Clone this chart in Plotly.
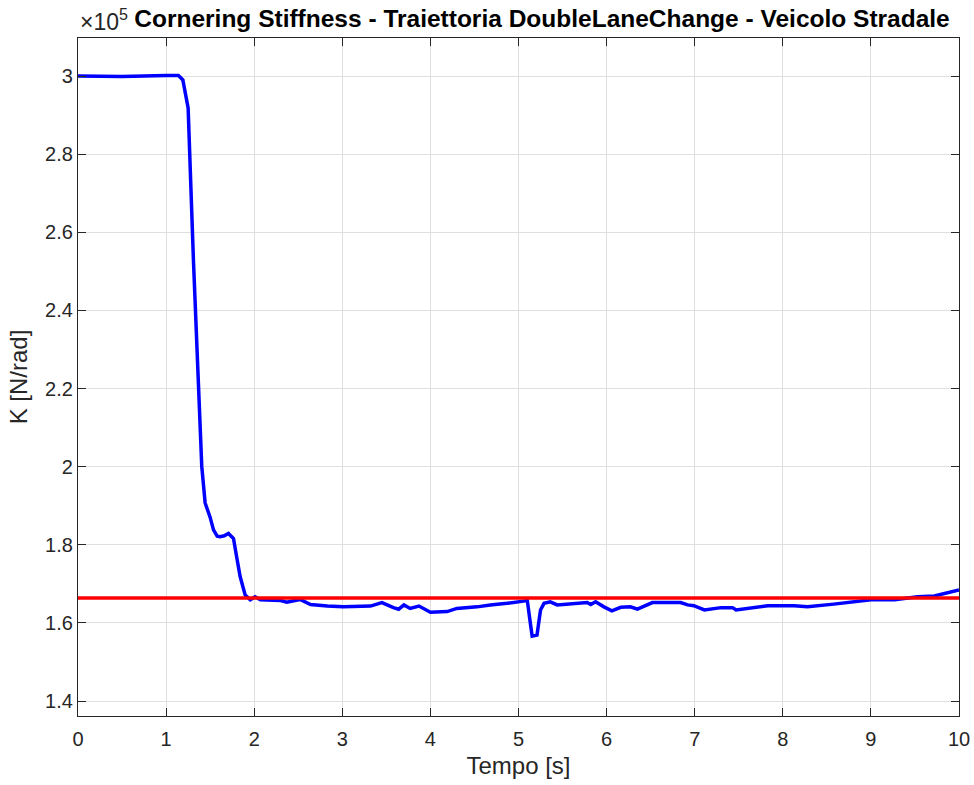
import plotly.graph_objects as go

# Time samples [s] and estimated cornering stiffness [x1e5 N/rad]
tempo = [0.0, 0.5, 1.0, 1.14, 1.19, 1.25, 1.31, 1.33, 1.36, 1.405, 1.443, 1.50,
         1.538, 1.58, 1.614, 1.66, 1.708, 1.765, 1.80, 1.841, 1.898, 1.955, 2.01,
         2.07, 2.30, 2.37, 2.52, 2.58, 2.64, 2.83, 3.01, 3.32, 3.45, 3.58, 3.64,
         3.70, 3.77, 3.87, 4.00, 4.19, 4.30, 4.53, 4.68, 4.87, 5.02, 5.10, 5.14,
         5.155, 5.21, 5.25, 5.29, 5.36, 5.44, 5.67, 5.78, 5.82, 5.875, 5.97, 6.06,
         6.16, 6.27, 6.35, 6.52, 6.84, 6.92, 6.99, 7.11, 7.30, 7.43, 7.47, 7.83,
         8.13, 8.28, 8.58, 8.85, 9.0, 9.27, 9.53, 9.72, 10.0]
k_stima = [3.000, 2.999, 3.001, 3.001, 2.99, 2.918, 2.53, 2.41, 2.222, 2.0, 1.907,
           1.87, 1.838, 1.822, 1.8205, 1.823, 1.829, 1.816, 1.77, 1.718, 1.671,
           1.659, 1.667, 1.659, 1.657, 1.653, 1.660, 1.653, 1.647, 1.643, 1.641,
           1.643, 1.652, 1.639, 1.635, 1.646, 1.637, 1.643, 1.627, 1.629, 1.637,
           1.641, 1.646, 1.650, 1.654, 1.657, 1.59, 1.566, 1.569, 1.633, 1.650,
           1.654, 1.646, 1.650, 1.652, 1.647, 1.654, 1.641, 1.631, 1.640, 1.641,
           1.635, 1.652, 1.652, 1.646, 1.644, 1.633, 1.639, 1.639, 1.633, 1.644,
           1.644, 1.641, 1.648, 1.654, 1.659, 1.659, 1.667, 1.669, 1.684]

# Reference (true) cornering stiffness [x1e5 N/rad]
k_reale = 1.6636
t_range = [0, 10]

x_ticks = [0, 1, 2, 3, 4, 5, 6, 7, 8, 9, 10]
y_ticks = [1.4, 1.6, 1.8, 2.0, 2.2, 2.4, 2.6, 2.8, 3.0]
y_tick_text = ["1.4", "1.6", "1.8", "2", "2.2", "2.4", "2.6", "2.8", "3"]

FONT = "Liberation Sans, Arial, Helvetica, sans-serif"
AX = "#262626"
GRID = "#dfdfdf"

fig = go.Figure()
fig.add_trace(go.Scatter(x=tempo, y=k_stima, mode="lines",
                         line=dict(color="#0000ff", width=3.5), showlegend=False))
fig.add_trace(go.Scatter(x=t_range, y=[k_reale, k_reale], mode="lines",
                         line=dict(color="#ff0000", width=3.5), showlegend=False))

axis_common = dict(
    showline=True, linecolor=AX, linewidth=1.3, mirror="ticks",
    ticks="inside", ticklen=8, tickcolor=AX, tickwidth=1.3,
    showgrid=True, gridcolor=GRID, gridwidth=1, zeroline=False,
    automargin=False,
    tickfont=dict(family=FONT, size=20, color=AX),
)

fig.update_xaxes(range=[0, 10], tickvals=x_ticks, ticklabelstandoff=5,
                 title=dict(text="Tempo [s]", font=dict(family=FONT, size=24, color=AX),
                            standoff=8),
                 **axis_common)
fig.update_yaxes(range=[1.3616, 3.0973], tickvals=y_ticks, ticktext=y_tick_text,
                 ticklabelstandoff=0,
                 title=dict(text="K [N/rad]", font=dict(family=FONT, size=24, color=AX),
                            standoff=10),
                 **axis_common)

fig.update_layout(
    width=974, height=785,
    margin=dict(l=78, r=15, t=38, b=69, autoexpand=False),
    paper_bgcolor="white", plot_bgcolor="white",
    title=dict(text="<b>Cornering Stiffness - Traiettoria DoubleLaneChange - Veicolo Stradale</b>",
               font=dict(family=FONT, size=24.5, color="black"),
               x=0.5565, xanchor="center", y=0.977, yanchor="middle"),
    annotations=[dict(text="×10<sup>5</sup>", xref="paper", yref="paper",
                      x=0, y=1, xanchor="left", yanchor="bottom", yshift=1,
                      showarrow=False, font=dict(family=FONT, size=23, color=AX))],
)

fig.write_html("out.html")
